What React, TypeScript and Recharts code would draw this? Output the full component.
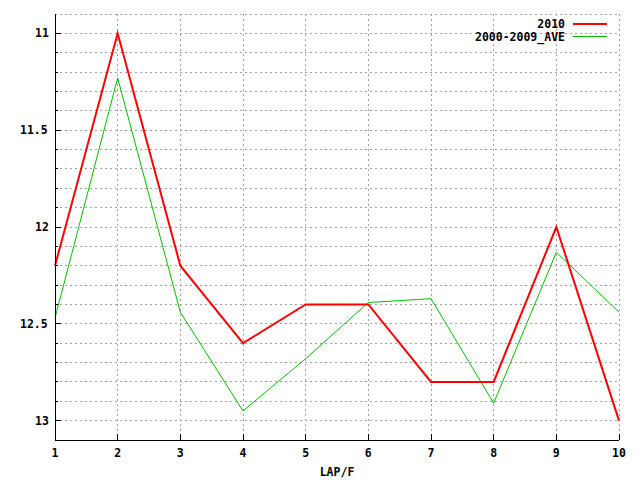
import React from "react";
import { LineChart, Line, XAxis, YAxis, CartesianGrid } from "recharts";

const laps = [1, 2, 3, 4, 5, 6, 7, 8, 9, 10];
const times2010 = [12.2, 11.0, 12.2, 12.6, 12.4, 12.4, 12.8, 12.8, 12.0, 13.0];
const timesAve = [12.47, 11.23, 12.44, 12.95, 12.68, 12.39, 12.37, 12.91, 12.13, 12.44];
const yTicks = [
  11, 11.1, 11.2, 11.3, 11.4, 11.5, 11.6, 11.7, 11.8, 11.9, 12, 12.1, 12.2, 12.3, 12.4,
  12.5, 12.6, 12.7, 12.8, 12.9, 13,
];
const yLabels = ["11", "11.5", "12", "12.5", "13"];

const data = laps.map((lap, i) => ({ lap, y2010: times2010[i], ave: timesAve[i] }));

const FONT = "'DejaVu Sans Mono', monospace";

const isMajor = (v: number) => yLabels.includes(String(Math.round(v * 10) / 10));

const BottomTick = ({ x, y, payload }: any) => (
  <g>
    <line x1={x} x2={x} y1={y} y2={y - 6} stroke="#000" shapeRendering="crispEdges" />
    <text x={x} y={y + 17} textAnchor="middle" fontFamily={FONT} fontWeight="bold" fontSize={11.5} fill="#000">
      {payload.value}
    </text>
  </g>
);

const TopTick = ({ x, y }: any) => (
  <line x1={x} x2={x} y1={y} y2={y + 6} stroke="#000" shapeRendering="crispEdges" />
);

const LeftTick = ({ x, y, payload }: any) => {
  const major = isMajor(payload.value);
  const label = String(Math.round(payload.value * 10) / 10);
  return (
    <g>
      <line x1={x} x2={x + (major ? 6 : 3)} y1={y} y2={y} stroke="#000" shapeRendering="crispEdges" />
      {major && (
        <text x={50 - label.length * 7.5} y={y + 4} textAnchor="start" fontFamily={FONT} fontWeight="bold" fontSize={11.5} fill="#000">
          {label}
        </text>
      )}
    </g>
  );
};

const RightTick = ({ x, y, payload }: any) => {
  const major = isMajor(payload.value);
  return <line x1={x} x2={x - (major ? 6 : 3)} y1={y} y2={y} stroke="#000" shapeRendering="crispEdges" />;
};

export default function App() {
  return (
    <div style={{ position: "absolute", left: 0, top: 0, width: 640, height: 480, background: "#fff" }}>
      <LineChart width={640} height={480} data={data} margin={{ top: 14, right: 21, bottom: 0, left: 0 }}>
        <CartesianGrid stroke="#a0a0a0" strokeDasharray="2 3" shapeRendering="crispEdges" />
        <XAxis
          dataKey="lap"
          type="number"
          domain={[1, 10]}
          ticks={laps}
          height={40}
          tickSize={0}
          tickMargin={0}
          tickLine={false}
          axisLine={{ stroke: "#000", shapeRendering: "crispEdges" }}
          tick={<BottomTick />}
          interval={0}
        />
        <XAxis
          xAxisId="top"
          orientation="top"
          dataKey="lap"
          type="number"
          domain={[1, 10]}
          ticks={laps}
          height={0}
          tickSize={0}
          tickMargin={0}
          tickLine={false}
          axisLine={{ stroke: "#000", shapeRendering: "crispEdges" }}
          tick={<TopTick />}
          interval={0}
        />
        <YAxis
          type="number"
          domain={[10.9, 13.1]}
          reversed
          ticks={yTicks}
          width={55}
          tickSize={0}
          tickMargin={0}
          tickLine={false}
          axisLine={{ stroke: "#000", shapeRendering: "crispEdges" }}
          tick={<LeftTick />}
          interval={0}
          allowDataOverflow
        />
        <YAxis
          yAxisId="right"
          orientation="right"
          type="number"
          domain={[10.9, 13.1]}
          reversed
          ticks={yTicks}
          width={0}
          tickSize={0}
          tickMargin={0}
          tickLine={false}
          axisLine={{ stroke: "#000", shapeRendering: "crispEdges" }}
          tick={<RightTick />}
          interval={0}
          allowDataOverflow
        />
        <Line type="linear" dataKey="ave" stroke="#00c000" strokeWidth={1} dot={false} isAnimationActive={false} />
        <Line type="linear" dataKey="y2010" stroke="#ff0000" strokeWidth={2} dot={false} isAnimationActive={false} />
      </LineChart>
      <svg width={640} height={480} style={{ position: "absolute", left: 0, top: 0, pointerEvents: "none" }}>
        <text x={565} y={28} textAnchor="end" fontFamily={FONT} fontWeight="bold" fontSize={11.5} fill="#000">
          2010
        </text>
        <line x1={573} x2={607} y1={24} y2={24} stroke="#ff0000" strokeWidth={2} />
        <text x={565} y={41} textAnchor="end" fontFamily={FONT} fontWeight="bold" fontSize={11.5} fill="#000">
          2000-2009_AVE
        </text>
        <line x1={573} x2={607} y1={36.5} y2={36.5} stroke="#00c000" strokeWidth={1} />
        <text x={337} y={476} textAnchor="middle" fontFamily={FONT} fontWeight="bold" fontSize={11.5} fill="#000">
          LAP/F
        </text>
      </svg>
    </div>
  );
}
